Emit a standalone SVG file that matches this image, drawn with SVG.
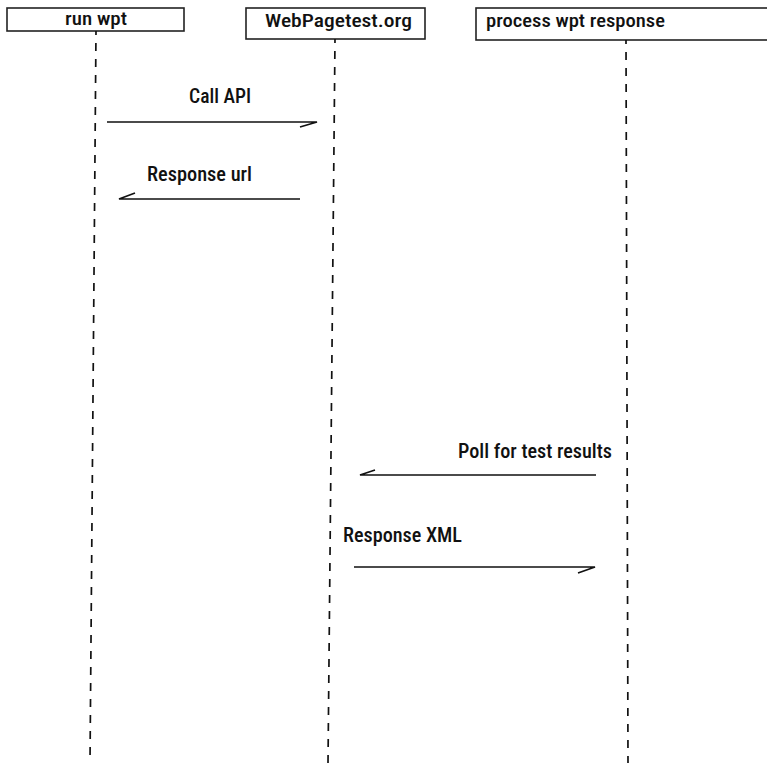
<svg xmlns="http://www.w3.org/2000/svg" width="767" height="763" viewBox="0 0 767 763">
<style>
.box{fill:#fff;stroke:#222;stroke-width:1.6}
.t{font-family:Roboto,"Liberation Sans",Arial,sans-serif;font-weight:500;font-stretch:condensed;fill:#111}
.life{stroke:#111;stroke-width:1.7;stroke-dasharray:8 8;stroke-dashoffset:4;fill:none}
.msg{stroke:#111;stroke-width:1.7;fill:none}
</style>
<rect width="767" height="763" fill="#fff"/>
<g id="node-run-wpt">
<rect class="box" x="7" y="8" width="177" height="23"/>
<text class="t" x="96" y="25" font-size="17.5" text-anchor="middle" textLength="62" lengthAdjust="spacingAndGlyphs">run wpt</text>
</g>
<g id="node-webpagetest">
<rect class="box" x="246" y="8" width="179" height="31"/>
<text class="t" x="265" y="27" font-size="17.5" textLength="147" lengthAdjust="spacingAndGlyphs">WebPagetest.org</text>
</g>
<g id="node-process">
<rect class="box" x="476" y="8" width="295" height="32"/>
<text class="t" x="486" y="27" font-size="17.5" textLength="179" lengthAdjust="spacingAndGlyphs">process wpt response</text>
</g>
<g id="connectors">
<line class="life" x1="96" y1="31" x2="90" y2="763"/>
<line class="life" x1="335" y1="39" x2="328" y2="763"/>
<line class="life" x1="626" y1="40" x2="628" y2="763"/>
<polyline class="msg" points="107,122 317,122 300,127"/>
<text class="t" x="189" y="103" font-size="21" textLength="62" lengthAdjust="spacingAndGlyphs">Call API</text>
<polyline class="msg" points="300,199 119,199 135,193"/>
<text class="t" x="147" y="181" font-size="21" textLength="105" lengthAdjust="spacingAndGlyphs">Response url</text>
<polyline class="msg" points="596,475 360,475 375,470"/>
<text class="t" x="458" y="458" font-size="21" textLength="154" lengthAdjust="spacingAndGlyphs">Poll for test results</text>
<polyline class="msg" points="354,567 595,567 578,573"/>
<text class="t" x="343" y="542" font-size="21" textLength="119" lengthAdjust="spacingAndGlyphs">Response XML</text>
</g>
</svg>
